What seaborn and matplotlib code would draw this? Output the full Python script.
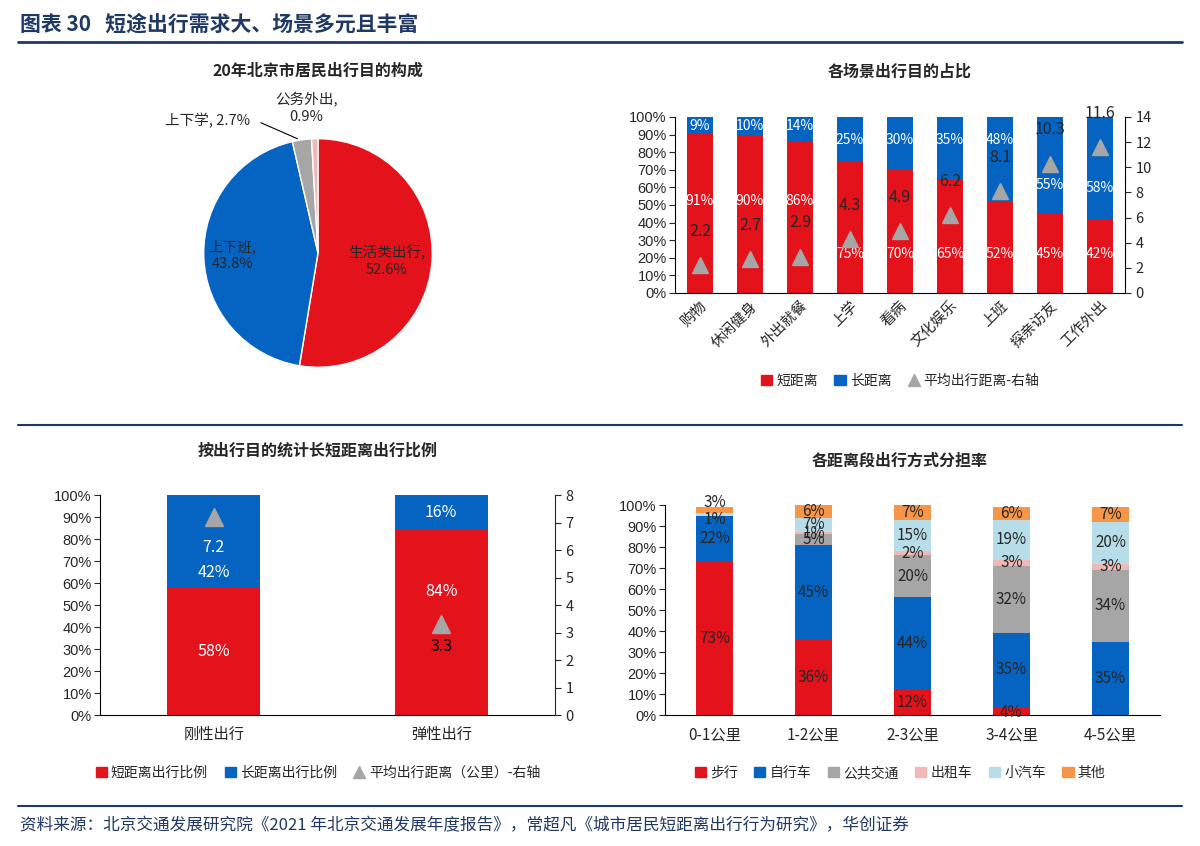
import numpy as np
import pandas as pd
import matplotlib.pyplot as plt
import seaborn as sns
from matplotlib.patches import Patch
from matplotlib.lines import Line2D

sns.set_style("white")
plt.rcParams["font.family"] = ["Noto Sans CJK SC", "DejaVu Sans"]
plt.rcParams["axes.unicode_minus"] = False

RED, BLUE, GRAY, PINK, LBLUE, ORANGE = "#E3121B", "#0563C1", "#A6A6A6", "#F2B8B8", "#B7DEE8", "#F79646"
NAVY = "#1F3864"

# Pie data
pie_labels = ["生活类出行", "上下班", "上下学", "公务外出"]
pie_values = [52.6, 43.8, 2.7, 0.9]

# Scenario data
scenes = ["购物", "休闲健身", "外出就餐", "上学", "看病", "文化娱乐", "上班", "探亲访友", "工作外出"]
scene_short = [91, 90, 86, 75, 70, 65, 52, 45, 42]
scene_long = [9, 10, 14, 25, 30, 35, 48, 55, 58]
scene_dist = [2.2, 2.7, 2.9, 4.3, 4.9, 6.2, 8.1, 10.3, 11.6]

# Purpose data
purposes = ["刚性出行", "弹性出行"]
purp_short = [58, 84]
purp_long = [42, 16]
purp_dist = [7.2, 3.3]

# Mode share data
dist_bands = ["0-1公里", "1-2公里", "2-3公里", "3-4公里", "4-5公里"]
modes = ["步行", "自行车", "公共交通", "出租车", "小汽车", "其他"]
mode_share = {
    "步行": [73, 36, 12, 4, 0],
    "自行车": [22, 45, 44, 35, 35],
    "公共交通": [0, 5, 20, 32, 34],
    "出租车": [0, 1, 2, 3, 3],
    "小汽车": [1, 7, 15, 19, 20],
    "其他": [3, 6, 7, 6, 7],
}
mode_colors = [RED, BLUE, GRAY, PINK, LBLUE, ORANGE]

W, H = 1200, 846
fig = plt.figure(figsize=(12, 8.46), dpi=100)


def rect(x0, y0, x1, y1):
    return [x0 / W, 1 - y1 / H, (x1 - x0) / W, (y1 - y0) / H]


def stacked(ax, cats, series, colors, width):
    # draw cumulative totals from the top segment down, so seaborn bars overlay
    cum = np.cumsum(np.array(series, dtype=float), axis=0)
    for i in range(len(series) - 1, -1, -1):
        df = pd.DataFrame({"cat": cats, "val": cum[i]})
        sns.barplot(data=df, x="cat", y="val", color=colors[i], width=width,
                    saturation=1, ax=ax, edgecolor="none")
    return cum


def pct_axis(ax):
    ax.set_ylim(0, 100)
    ax.set_yticks(range(0, 101, 10))
    ax.set_yticklabels([f"{v}%" for v in range(0, 101, 10)], fontsize=10.5,
                       family=["Liberation Sans", "DejaVu Sans"])
    ax.set_xlabel("")
    ax.set_ylabel("")
    for s in ["top", "right"]:
        ax.spines[s].set_visible(False)
    ax.spines["left"].set_color("black")
    ax.spines["bottom"].set_color("black")
    ax.tick_params(axis="y", length=4, direction="out", left=True, pad=2)
    ax.tick_params(axis="x", length=0)


# Header
fig.text(20 / W, 1 - 24 / H, "图表 30   短途出行需求大、场景多元且丰富", fontsize=15,
         fontweight="bold", color=NAVY, va="center")
fig.add_artist(Line2D([18 / W, 1182 / W], [1 - 42 / H] * 2, color=NAVY, lw=2))
fig.add_artist(Line2D([18 / W, 1182 / W], [1 - 425 / H] * 2, color=NAVY, lw=1.5))
fig.add_artist(Line2D([18 / W, 1182 / W], [1 - 806 / H] * 2, color=NAVY, lw=1.5))
fig.text(20 / W, 1 - 826 / H,
         "资料来源：北京交通发展研究院《2021 年北京交通发展年度报告》，常超凡《城市居民短距离出行行为研究》，华创证券",
         fontsize=12, style="italic", color=NAVY, va="center")

# Pie
ax1 = fig.add_axes(rect(198, 133, 438, 373))
ax1.pie(pie_values, colors=[RED, BLUE, GRAY, PINK], startangle=90, counterclock=False,
        wedgeprops=dict(edgecolor="white", linewidth=1))
ax1.set_aspect("equal")
fig.text(318 / W, 1 - 76 / H, "20年北京市居民出行目的构成", fontsize=11.5, fontweight="bold", ha="center")
pf = dict(fontsize=10.5, family=["Noto Sans CJK SC"])
ax1.text(0.6, -0.07, "生活类出行,\n52.6%", ha="center", va="center", **pf)
ax1.text(-0.75, -0.02, "上下班,\n43.8%", ha="center", va="center", **pf)
ax1.text(-0.97, 1.16, "上下学, 2.7%", ha="center", va="center", clip_on=False, **pf)
ax1.text(-0.1, 1.27, "公务外出,\n0.9%", ha="center", va="center", clip_on=False, **pf)
ax1.plot([-0.5, -0.18], [1.14, 1.0], color="black", lw=0.8, clip_on=False)
ax1.set_xlim(-1.05, 1.05)
ax1.set_ylim(-1.05, 1.05)

# Scenario stacked bars
ax2 = fig.add_axes(rect(675, 117, 1125, 293))
stacked(ax2, scenes, [scene_short, scene_long], [RED, BLUE], 0.52)
pct_axis(ax2)
ax2.set_xticks(range(len(scenes)))
ax2.set_xticklabels(scenes, rotation=45, ha="right", rotation_mode="anchor", fontsize=10.5)
ax2.tick_params(axis="x", length=0, pad=4)
for i, (s, l) in enumerate(zip(scene_short, scene_long)):
    ax2.text(i, 22 if s < 80 else 52, f"{s}%", ha="center", va="center", color="white", fontsize=10)
    if l <= 15:
        yl = 95
    elif l < 50:
        yl = 87
    else:
        yl = s + l * 0.3
    ax2.text(i, yl, f"{l}%", ha="center", va="center", color="white", fontsize=10)
ax2r = ax2.twinx()
ax2r.plot(range(len(scenes)), scene_dist, ls="none", marker="^", ms=11, color=GRAY)
for i, d in enumerate(scene_dist):
    ax2r.text(i, d + 2.0, f"{d}", ha="center", va="bottom", fontsize=11.5, clip_on=False)
ax2r.set_ylim(0, 14)
ax2r.set_yticks(range(0, 15, 2))
ax2r.tick_params(axis="y", length=4, right=True, labelsize=10.5)
for s in ["top", "left", "bottom"]:
    ax2r.spines[s].set_visible(False)
ax2r.spines["right"].set_color("black")
ax2.set_xlim(-0.5, len(scenes) - 0.5)
fig.text(900 / W, 1 - 77 / H, "各场景出行目的占比", fontsize=11.5, fontweight="bold", ha="center")
fig.legend(handles=[Patch(color=RED, label="短距离"), Patch(color=BLUE, label="长距离"),
                    Line2D([], [], ls="none", marker="^", color=GRAY, ms=8, label="平均出行距离-右轴")],
           loc="center", bbox_to_anchor=(900 / W, 1 - 381 / H), ncol=3, frameon=False,
           fontsize=10, handlelength=0.8, handleheight=0.8, columnspacing=1.2, handletextpad=0.3)

# Purpose stacked bars
ax3 = fig.add_axes(rect(100, 495, 555, 715))
stacked(ax3, purposes, [purp_short, purp_long], [RED, BLUE], 0.41)
pct_axis(ax3)
ax3.set_xticks(range(len(purposes)))
ax3.set_xticklabels(purposes, fontsize=11)
ax3.tick_params(axis="x", pad=8)
ax3.text(0, 29, "58%", ha="center", va="center", color="white", fontsize=11.5)
ax3.text(0, 65, "42%", ha="center", va="center", color="white", fontsize=11.5)
ax3.text(1, 56, "84%", ha="center", va="center", color="white", fontsize=11.5)
ax3.text(1, 92, "16%", ha="center", va="center", color="white", fontsize=11.5)
ax3r = ax3.twinx()
ax3r.plot(range(len(purposes)), purp_dist, ls="none", marker="^", ms=13, color=GRAY)
ax3r.text(0, purp_dist[0] - 1.1, f"{purp_dist[0]}", ha="center", va="center", color="white", fontsize=11.5)
ax3r.text(1, purp_dist[1] - 0.8, f"{purp_dist[1]}", ha="center", va="center", color="black", fontsize=11.5)
ax3r.set_ylim(0, 8)
ax3r.set_yticks(range(0, 9))
ax3r.tick_params(axis="y", length=4, right=True, labelsize=10.5)
for s in ["top", "left", "bottom"]:
    ax3r.spines[s].set_visible(False)
ax3.set_xlim(-0.5, 1.5)
fig.text(318 / W, 1 - 456 / H, "按出行目的统计长短距离出行比例", fontsize=11.5, fontweight="bold", ha="center")
fig.legend(handles=[Patch(color=RED, label="短距离出行比例"), Patch(color=BLUE, label="长距离出行比例"),
                    Line2D([], [], ls="none", marker="^", color=GRAY, ms=8, label="平均出行距离（公里）-右轴")],
           loc="center", bbox_to_anchor=(318 / W, 1 - 773 / H), ncol=3, frameon=False,
           fontsize=10, handlelength=0.8, handleheight=0.8, columnspacing=1.2, handletextpad=0.3)

# Mode share stacked bars
ax4 = fig.add_axes(rect(665, 505, 1160, 715))
series = [mode_share[m] for m in modes]
cum = stacked(ax4, dist_bands, series, mode_colors, 0.37)
pct_axis(ax4)
ax4.set_xticks(range(len(dist_bands)))
ax4.set_xticklabels(dist_bands, fontsize=11)
ax4.tick_params(axis="x", pad=8)
ax4.set_xlim(-0.5, len(dist_bands) - 0.5)
for j in range(len(dist_bands)):
    for i in range(len(modes)):
        v = series[i][j]
        if v == 0:
            continue
        y = cum[i][j] - v / 2
        if i == 0 and v < 5:
            y = 1
        if j == 0 and i == 5:
            y = cum[i][j] + 2
        if j == 0 and i == 4:
            y = cum[i][j] - 3
        ax4.text(j, y, f"{v}%", ha="center", va="center", fontsize=11, clip_on=False)
fig.text(900 / W, 1 - 466 / H, "各距离段出行方式分担率", fontsize=11.5, fontweight="bold", ha="center")
fig.legend(handles=[Patch(color=c, label=m) for m, c in zip(modes, mode_colors)],
           loc="center", bbox_to_anchor=(900 / W, 1 - 773 / H), ncol=6, frameon=False,
           fontsize=10, handlelength=0.8, handleheight=0.8, columnspacing=1.2, handletextpad=0.3)

fig.savefig("out.png", dpi=100)
